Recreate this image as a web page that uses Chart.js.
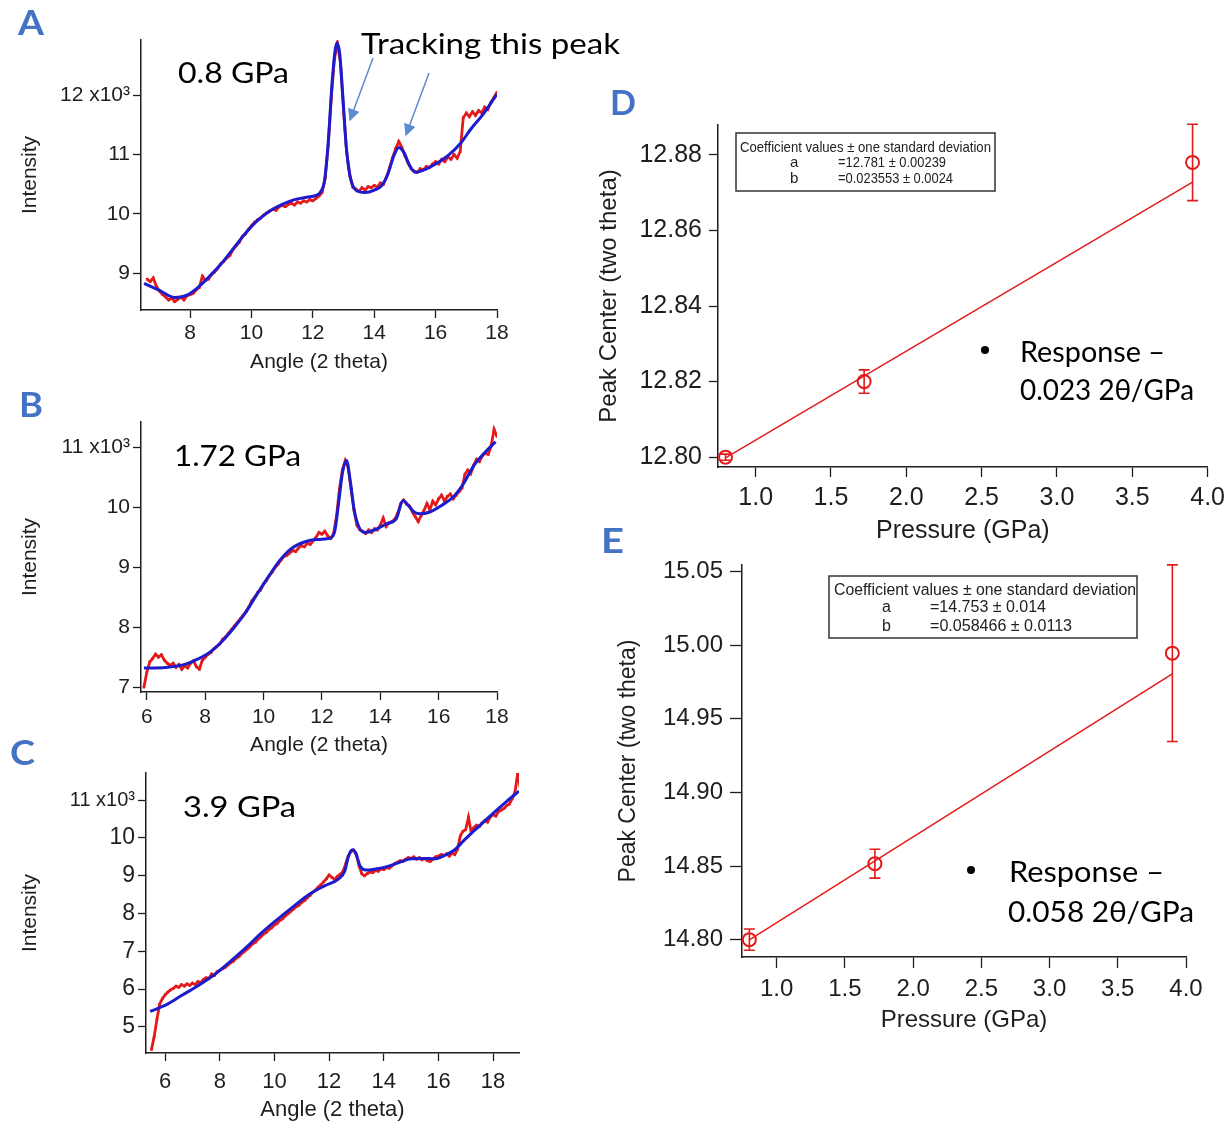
<!DOCTYPE html>
<html>
<head>
<meta charset="utf-8">
<script src="https://cdn.jsdelivr.net/npm/chart.js@4.4.1/dist/chart.umd.min.js"></script>
<style>
html,body{margin:0;padding:0;background:#ffffff;overflow:hidden;}
#fig{position:relative;width:1231px;height:1123px;background:#fff;}
canvas{position:absolute;}
#ov{position:absolute;left:0;top:0;pointer-events:none;}
</style>
</head>
<body>
<div id="fig">
<canvas id="cA" width="540" height="379" style="left:0px;top:0px"></canvas>
<canvas id="cB" width="540" height="382" style="left:0px;top:380px"></canvas>
<canvas id="cC" width="560" height="383" style="left:0px;top:740px"></canvas>
<canvas id="cD" width="651" height="470" style="left:580px;top:80px"></canvas>
<canvas id="cE" width="631" height="519" style="left:600px;top:520px"></canvas>
<svg id="ov" width="1231" height="1123" xmlns="http://www.w3.org/2000/svg">
  <defs>
    <marker id="ah" viewBox="0 0 10 10" refX="9" refY="5" markerWidth="8.5" markerHeight="8" orient="auto">
      <path d="M0,0 L10,5 L0,10 z" fill="#5b8bd0"/>
    </marker>
  </defs>
  <g font-family="Lato, 'Open Sans', sans-serif" font-weight="bold" fill="#4472C4" font-size="35">
    <text x="18" y="35" textLength="26" lengthAdjust="spacingAndGlyphs">A</text>
    <text x="19" y="417" textLength="24" lengthAdjust="spacingAndGlyphs">B</text>
    <text x="10" y="765" textLength="25" lengthAdjust="spacingAndGlyphs">C</text>
    <text x="610" y="115" textLength="26" lengthAdjust="spacingAndGlyphs">D</text>
    <text x="601" y="553" textLength="23" lengthAdjust="spacingAndGlyphs">E</text>
  </g>
  <g font-family="Lato, 'Open Sans', sans-serif" fill="#000" font-size="28">
    <text x="178" y="83" textLength="111" lengthAdjust="spacingAndGlyphs">0.8 GPa</text>
    <text x="361" y="54" font-size="29" textLength="259" lengthAdjust="spacingAndGlyphs">Tracking this peak</text>
    <text x="174" y="466" font-size="29" textLength="127" lengthAdjust="spacingAndGlyphs">1.72 GPa</text>
    <text x="183" y="817" font-size="29" textLength="113" lengthAdjust="spacingAndGlyphs">3.9 GPa</text>
    <text x="1020" y="362" textLength="145" lengthAdjust="spacingAndGlyphs">Response –</text>
    <text x="1020" y="400" textLength="174" lengthAdjust="spacingAndGlyphs">0.023 2θ/GPa</text>
    <text x="1009" y="882" textLength="155" lengthAdjust="spacingAndGlyphs">Response –</text>
    <text x="1008" y="922" textLength="186" lengthAdjust="spacingAndGlyphs">0.058 2θ/GPa</text>
  </g>
  <circle cx="985" cy="350" r="4" fill="#000"/>
  <circle cx="971" cy="870" r="4" fill="#000"/>
  <line x1="373" y1="58" x2="350" y2="120" stroke="#5b8bd0" stroke-width="1.5" marker-end="url(#ah)"/>
  <line x1="429" y1="73" x2="406" y2="135" stroke="#5b8bd0" stroke-width="1.5" marker-end="url(#ah)"/>
  <rect x="736" y="133" width="259" height="58" fill="#fff" stroke="#333" stroke-width="1.5"/>
  <g font-family="'Liberation Sans', Arial, sans-serif" fill="#222" font-size="15">
    <text x="740" y="152" textLength="251" lengthAdjust="spacingAndGlyphs">Coefficient values ± one standard deviation</text>
    <text x="790" y="167">a</text>
    <text x="838" y="167" textLength="108" lengthAdjust="spacingAndGlyphs">=12.781 ± 0.00239</text>
    <text x="790" y="183">b</text>
    <text x="838" y="183" textLength="115" lengthAdjust="spacingAndGlyphs">=0.023553 ± 0.0024</text>
  </g>
  <rect x="829" y="576" width="308" height="62" fill="#fff" stroke="#333" stroke-width="1.5"/>
  <g font-family="'Liberation Sans', Arial, sans-serif" fill="#222" font-size="16">
    <text x="834" y="595" textLength="302" lengthAdjust="spacingAndGlyphs">Coefficient values ± one standard deviation</text>
    <text x="882" y="612">a</text>
    <text x="930" y="612" textLength="116" lengthAdjust="spacingAndGlyphs">=14.753 ± 0.014</text>
    <text x="882" y="631">b</text>
    <text x="930" y="631" textLength="142" lengthAdjust="spacingAndGlyphs">=0.058466 ± 0.0113</text>
  </g>
</svg>
</div>
<script>
// ---------------- DATA ----------------
// Panel A (0.8 GPa): measured pattern [angle 2θ, intensity x10^3]
const measuredA = [
[6.6,8.90],[6.7,8.86],[6.8,8.92],[6.9,8.78],[7.0,8.70],[7.1,8.64],[7.2,8.60],[7.3,8.55],[7.4,8.58],[7.5,8.52],
[7.6,8.56],[7.7,8.60],[7.8,8.55],[7.9,8.62],[8.0,8.64],[8.1,8.66],[8.2,8.72],[8.3,8.76],[8.4,8.95],[8.5,8.88],
[8.6,8.90],[8.7,8.98],[8.8,9.02],[8.9,9.08],[9.0,9.16],[9.1,9.20],[9.2,9.26],[9.3,9.30],[9.4,9.40],[9.5,9.46],
[9.6,9.52],[9.7,9.62],[9.8,9.66],[9.9,9.74],[10.0,9.80],[10.1,9.86],[10.2,9.90],[10.3,9.93],[10.4,9.98],[10.5,10.02],
[10.6,10.05],[10.7,10.08],[10.8,10.06],[10.9,10.12],[11.0,10.14],[11.1,10.12],[11.2,10.16],[11.3,10.18],[11.4,10.15],[11.5,10.20],
[11.6,10.18],[11.7,10.22],[11.8,10.20],[11.9,10.24],[12.0,10.22],[12.1,10.26],[12.2,10.30],[12.3,10.36],[12.4,10.60],[12.5,11.15],
[12.6,11.95],[12.7,12.60],[12.8,12.88],[12.9,12.55],[13.0,11.75],[13.1,11.05],[13.2,10.65],[13.3,10.45],[13.4,10.42],[13.5,10.38],
[13.6,10.44],[13.7,10.40],[13.8,10.46],[13.9,10.44],[14.0,10.48],[14.1,10.45],[14.2,10.52],[14.3,10.50],[14.4,10.62],[14.5,10.78],
[14.6,10.95],[14.7,11.10],[14.8,11.22],[14.9,11.12],[15.0,10.98],[15.1,10.86],[15.2,10.76],[15.3,10.72],[15.4,10.70],[15.5,10.76],
[15.6,10.74],[15.7,10.80],[15.8,10.78],[15.9,10.84],[16.0,10.88],[16.1,10.84],[16.2,10.92],[16.3,10.88],[16.4,10.96],[16.5,10.92],
[16.6,11.00],[16.7,10.94],[16.8,11.05],[16.9,11.62],[17.0,11.70],[17.1,11.64],[17.2,11.72],[17.3,11.66],[17.4,11.74],[17.5,11.70],
[17.6,11.80],[17.7,11.76],[17.8,11.88],[17.9,11.96],[18.0,12.05]
];
const fitA = [
[6.5,8.83],[7.0,8.71],[7.5,8.59],[7.9,8.63],[8.3,8.78],[8.6,8.93],[9.0,9.15],[9.4,9.41],[9.8,9.67],[10.2,9.89],
[10.6,10.05],[11.0,10.16],[11.4,10.24],[11.8,10.28],[12.1,10.31],[12.25,10.37],[12.38,10.56],[12.5,11.2],[12.64,12.3],[12.78,12.88],
[12.87,12.72],[12.98,11.95],[13.09,11.12],[13.22,10.62],[13.4,10.40],[13.7,10.36],[14.0,10.40],[14.25,10.48],[14.45,10.68],[14.64,10.98],
[14.8,11.12],[14.96,11.04],[15.15,10.82],[15.35,10.70],[15.7,10.76],[16.0,10.84],[16.4,10.98],[16.8,11.18],[17.15,11.43],[17.55,11.68],[18.0,12.02]
];

// Panel B (1.72 GPa)
const measuredB = [
[5.9,7.00],[6.0,7.25],[6.1,7.42],[6.2,7.48],[6.3,7.55],[6.4,7.50],[6.5,7.54],[6.6,7.45],[6.7,7.40],[6.8,7.36],
[6.9,7.40],[7.0,7.33],[7.1,7.38],[7.2,7.30],[7.3,7.36],[7.4,7.32],[7.5,7.40],[7.6,7.44],[7.7,7.34],[7.8,7.30],
[7.9,7.45],[8.0,7.50],[8.1,7.55],[8.2,7.58],[8.3,7.64],[8.4,7.68],[8.5,7.72],[8.6,7.80],[8.7,7.84],[8.8,7.90],
[8.9,7.96],[9.0,8.02],[9.1,8.08],[9.2,8.14],[9.3,8.20],[9.4,8.26],[9.5,8.34],[9.6,8.44],[9.7,8.50],[9.8,8.58],
[9.9,8.62],[10.0,8.72],[10.1,8.78],[10.2,8.86],[10.3,8.92],[10.4,9.00],[10.5,9.05],[10.6,9.12],[10.7,9.18],[10.8,9.20],
[10.9,9.24],[11.0,9.28],[11.1,9.26],[11.2,9.32],[11.3,9.36],[11.4,9.34],[11.5,9.40],[11.6,9.38],[11.7,9.44],[11.8,9.50],
[11.9,9.58],[12.0,9.55],[12.1,9.60],[12.2,9.52],[12.3,9.48],[12.4,9.56],[12.5,9.85],[12.6,10.30],[12.7,10.62],[12.8,10.78],
[12.9,10.66],[13.0,10.30],[13.1,9.95],[13.2,9.70],[13.3,9.62],[13.4,9.60],[13.5,9.56],[13.6,9.62],[13.7,9.58],[13.8,9.64],
[13.9,9.62],[14.0,9.70],[14.1,9.82],[14.2,9.68],[14.3,9.74],[14.4,9.76],[14.5,9.80],[14.6,9.90],[14.7,10.06],[14.8,10.12],
[14.9,10.05],[15.0,10.02],[15.1,9.92],[15.2,9.84],[15.3,9.76],[15.4,9.86],[15.5,9.95],[15.6,10.06],[15.7,9.96],[15.8,10.10],
[15.9,10.04],[16.0,10.14],[16.1,10.20],[16.2,10.10],[16.3,10.18],[16.4,10.22],[16.5,10.14],[16.6,10.20],[16.7,10.26],[16.8,10.32],
[16.9,10.55],[17.0,10.62],[17.1,10.56],[17.2,10.70],[17.3,10.80],[17.4,10.76],[17.5,10.86],[17.6,10.90],[17.7,10.88],[17.8,11.02],
[17.9,11.30],[18.0,11.18]
];
const fitB = [
[5.9,7.32],[6.65,7.33],[7.3,7.38],[7.7,7.46],[8.15,7.58],[8.55,7.75],[8.95,7.97],[9.35,8.22],[9.75,8.53],[10.15,8.83],
[10.55,9.11],[10.95,9.31],[11.4,9.42],[11.8,9.46],[12.25,9.48],[12.43,9.58],[12.57,10.06],[12.7,10.56],[12.84,10.78],[12.97,10.44],
[13.11,9.94],[13.27,9.67],[13.47,9.58],[13.8,9.62],[14.2,9.72],[14.55,9.81],[14.78,10.11],[14.96,10.03],[15.16,9.92],[15.36,9.89],
[15.7,9.92],[16.1,10.03],[16.5,10.17],[16.85,10.39],[17.2,10.69],[17.6,10.92],[17.95,11.09]
];

// Panel C (3.9 GPa)
const measuredC = [
[5.5,4.40],[5.6,4.75],[5.7,5.20],[5.8,5.60],[5.9,5.75],[6.0,5.85],[6.1,5.92],[6.2,5.98],[6.3,6.02],[6.4,6.08],
[6.5,6.05],[6.6,6.12],[6.7,6.08],[6.8,6.14],[6.9,6.10],[7.0,6.16],[7.1,6.12],[7.2,6.20],[7.3,6.16],[7.4,6.26],
[7.5,6.30],[7.6,6.28],[7.7,6.40],[7.8,6.36],[7.9,6.46],[8.0,6.50],[8.1,6.54],[8.2,6.58],[8.3,6.64],[8.4,6.70],
[8.5,6.74],[8.6,6.82],[8.7,6.86],[8.8,6.94],[8.9,7.00],[9.0,7.06],[9.1,7.12],[9.2,7.20],[9.3,7.24],[9.4,7.32],
[9.5,7.38],[9.6,7.46],[9.7,7.50],[9.8,7.58],[9.9,7.62],[10.0,7.70],[10.1,7.74],[10.2,7.82],[10.3,7.86],[10.4,7.94],
[10.5,8.00],[10.6,8.06],[10.7,8.12],[10.8,8.18],[10.9,8.22],[11.0,8.30],[11.1,8.34],[11.2,8.42],[11.3,8.48],[11.4,8.56],
[11.5,8.62],[11.6,8.70],[11.7,8.76],[11.8,8.84],[11.9,8.92],[12.0,9.02],[12.1,8.96],[12.2,8.90],[12.3,8.98],[12.4,9.04],
[12.5,9.10],[12.6,9.30],[12.7,9.52],[12.8,9.64],[12.9,9.68],[13.0,9.55],[13.1,9.25],[13.2,9.05],[13.3,9.00],[13.4,9.06],
[13.5,9.10],[13.6,9.08],[13.7,9.14],[13.8,9.12],[13.9,9.18],[14.0,9.16],[14.1,9.22],[14.2,9.20],[14.3,9.26],[14.4,9.32],
[14.5,9.36],[14.6,9.40],[14.7,9.38],[14.8,9.44],[14.9,9.48],[15.0,9.46],[15.1,9.50],[15.2,9.44],[15.3,9.48],[15.4,9.42],
[15.5,9.46],[15.6,9.40],[15.7,9.38],[15.8,9.44],[15.9,9.50],[16.0,9.52],[16.1,9.56],[16.2,9.54],[16.3,9.58],[16.4,9.52],
[16.5,9.60],[16.6,9.56],[16.7,9.70],[16.8,10.05],[16.9,10.18],[17.0,10.22],[17.1,10.55],[17.2,10.16],[17.3,10.28],[17.4,10.34],
[17.5,10.30],[17.6,10.40],[17.7,10.46],[17.8,10.42],[17.9,10.56],[18.0,10.62],[18.1,10.58],[18.2,10.70],[18.3,10.74],[18.4,10.78],
[18.5,10.86],[18.6,10.90],[18.7,11.04],[18.8,11.20],[18.9,11.70],[19.0,11.30]
];
const fitC = [
[5.45,5.41],[6.05,5.59],[6.6,5.83],[7.2,6.09],[7.8,6.38],[8.35,6.71],[8.95,7.09],[9.5,7.47],[10.1,7.84],[10.7,8.19],
[11.25,8.50],[11.85,8.74],[12.35,8.92],[12.57,9.12],[12.71,9.52],[12.86,9.69],[12.97,9.61],[13.14,9.25],[13.36,9.15],[13.7,9.18],
[14.15,9.25],[14.6,9.36],[15.0,9.45],[15.45,9.46],[15.85,9.45],[16.2,9.53],[16.6,9.69],[16.9,9.91],[17.35,10.22],[17.95,10.62],
[18.5,10.97],[18.95,11.24]
];

// Tick values
const angleTicksA = [8, 10, 12, 14, 16, 18];
const angleTicksBC = [6, 8, 10, 12, 14, 16, 18];
const intensityTicksA = [9, 10, 11, 12];
const intensityTicksB = [7, 8, 9, 10, 11];
const intensityTicksC = [5, 6, 7, 8, 9, 10, 11];
const pressureTicks = [1.0, 1.5, 2.0, 2.5, 3.0, 3.5, 4.0];
const centerTicksD = [12.80, 12.82, 12.84, 12.86, 12.88];
const centerTicksE = [14.80, 14.85, 14.90, 14.95, 15.00, 15.05];

// Panels D and E: peak centre vs pressure
const pressureGPa = [0.8, 1.72, 3.9];
const peakCenterD = [12.800, 12.820, 12.878];
const peakErrorD = [0.0008, 0.0031, 0.0101];
const peakCenterE = [14.800, 14.8516, 14.9946];
const peakErrorE = [0.0072, 0.0098, 0.060];
const fitPressure = [0.8, 3.9];
const fitLineD = [12.7998, 12.8728];
const fitLineE = [14.7998, 14.9805];

// ---------------- CHARTS ----------------
const RED = '#e41a1a';
const BLUE = '#1c1ccf';
const INK = '#1e1e1e';
const FONT = "'Liberation Sans', Arial, sans-serif";

const errorBars = {
  id: 'errorBars',
  afterDatasetsDraw(chart) {
    const ds = chart.data.datasets.find(d => d.errors);
    if (!ds) return;
    const {ctx, scales: {x, y}} = chart;
    ctx.save();
    ctx.strokeStyle = RED;
    ctx.lineWidth = 1.6;
    ds.data.forEach((p, i) => {
      const px = x.getPixelForValue(p.x);
      const e = ds.errors[i];
      const y1 = y.getPixelForValue(p.y + e);
      const y2 = y.getPixelForValue(p.y - e);
      ctx.beginPath();
      ctx.moveTo(px, y1); ctx.lineTo(px, y2);
      ctx.moveTo(px - 5.5, y1); ctx.lineTo(px + 5.5, y1);
      ctx.moveTo(px - 5.5, y2); ctx.lineTo(px + 5.5, y2);
      ctx.stroke();
    });
    ctx.restore();
  }
};

function axis(o) {
  return {
    type: 'linear',
    min: o.min, max: o.max,
    afterBuildTicks: s => { s.ticks = o.ticks.map(v => ({value: v})); },
    afterFit: s => { if (o.w !== undefined) s.width = o.w; if (o.h !== undefined) s.height = o.h; },
    grid: {display: true, drawOnChartArea: false, drawTicks: true, tickLength: o.tl, tickColor: INK, tickWidth: 1.3},
    border: {display: true, color: INK, width: 1.5},
    ticks: {color: INK, font: o.tfont, padding: o.pad, maxRotation: 0, autoSkip: false, callback: o.cb},
    title: {display: true, text: o.title, color: INK, font: {family: FONT, size: o.titleSize}, padding: o.titlePad}
  };
}

function xrd(id, measured, fit, xo, yo, pad) {
  return new Chart(document.getElementById(id), {
    type: 'scatter',
    data: {datasets: [
      {data: fit, showLine: true, borderColor: BLUE, borderWidth: 3, pointRadius: 0, cubicInterpolationMode: 'monotone', order: 1},
      {data: measured, showLine: true, borderColor: RED, borderWidth: 2.8, pointRadius: 1.8, pointStyle: 'rect',
       pointBackgroundColor: RED, pointBorderWidth: 0, order: 2}
    ]},
    options: {
      responsive: false, animation: false, events: [],
      plugins: {legend: {display: false}, tooltip: {enabled: false}},
      layout: {padding: pad},
      scales: {x: axis(xo), y: axis(yo)}
    }
  });
}

const sciLabel = top => v => (v === top ? v + ' x10³' : String(v));

xrd('cA', measuredA, fitA,
  {min: 6.4, max: 18, ticks: angleTicksA, h: 69, tl: 8, pad: 3, tfont: {family: FONT, size: 21}, title: 'Angle (2 theta)', titleSize: 21, titlePad: {top: 4, bottom: 4}},
  {min: 8.38, max: 12.93, ticks: intensityTicksA, w: 127, tl: 8, pad: 3, tfont: {family: FONT, size: 21}, cb: sciLabel(12), title: 'Intensity', titleSize: 21, titlePad: {top: 4, bottom: 4}},
  {left: 14, top: 40, right: 43, bottom: 0});

xrd('cB', measuredB, fitB,
  {min: 5.8, max: 18, ticks: angleTicksBC, h: 70, tl: 8, pad: 5, tfont: {family: FONT, size: 21}, title: 'Angle (2 theta)', titleSize: 21, titlePad: {top: 4, bottom: 4}},
  {min: 6.92, max: 11.42, ticks: intensityTicksB, w: 127, tl: 8, pad: 3, tfont: {family: FONT, size: 21}, cb: sciLabel(11), title: 'Intensity', titleSize: 21, titlePad: {top: 4, bottom: 4}},
  {left: 14, top: 42, right: 43, bottom: 0});

xrd('cC', measuredC, fitC,
  {min: 5.3, max: 18.95, ticks: angleTicksBC, h: 70, tl: 8, pad: 8, tfont: {family: FONT, size: 22}, title: 'Angle (2 theta)', titleSize: 22, titlePad: {top: 4, bottom: 0}},
  {min: 4.31, max: 11.72, ticks: intensityTicksC, w: 132, tl: 8, pad: 3,
   tfont: ctx => ({family: FONT, size: (ctx.tick && ctx.tick.value === 11) ? 20 : 23}),
   cb: sciLabel(11), title: 'Intensity', titleSize: 21, titlePad: {top: 4, bottom: 4}},
  {left: 14, top: 33, right: 41, bottom: 0});

function pressureChart(id, centers, errors, fitLine, xo, yo, pad) {
  return new Chart(document.getElementById(id), {
    type: 'scatter',
    data: {datasets: [
      {data: pressureGPa.map((p, i) => ({x: p, y: centers[i]})), errors: errors, pointRadius: 6.5, pointStyle: 'circle',
       pointBorderColor: RED, pointBackgroundColor: 'rgba(0,0,0,0)', pointBorderWidth: 2, showLine: false, clip: false, order: 1},
      {data: fitPressure.map((p, i) => ({x: p, y: fitLine[i]})), showLine: true, borderColor: RED, borderWidth: 1.5, pointRadius: 0, order: 2}
    ]},
    options: {
      responsive: false, animation: false, events: [],
      plugins: {legend: {display: false}, tooltip: {enabled: false}},
      layout: {padding: pad},
      scales: {x: axis(xo), y: axis(yo)}
    },
    plugins: [errorBars]
  });
}

pressureChart('cD', peakCenterD, peakErrorD, fitLineD,
  {min: 0.75, max: 4.0, ticks: pressureTicks, h: 83, tl: 10, pad: 6, tfont: {family: FONT, size: 25}, cb: v => v.toFixed(1), title: 'Pressure (GPa)', titleSize: 25, titlePad: {top: 4, bottom: 4}},
  {min: 12.7974, max: 12.8879, ticks: centerTicksD, w: 127, tl: 9, pad: 7, tfont: {family: FONT, size: 25}, cb: v => v.toFixed(2), title: 'Peak Center (two theta)', titleSize: 24, titlePad: {top: 4, bottom: 4}},
  {left: 11, top: 45, right: 22, bottom: 0});

pressureChart('cE', peakCenterE, peakErrorE, fitLineE,
  {min: 0.746, max: 4.0, ticks: pressureTicks, h: 82, tl: 11, pad: 7, tfont: {family: FONT, size: 24}, cb: v => v.toFixed(1), title: 'Pressure (GPa)', titleSize: 24, titlePad: {top: 4, bottom: 4}},
  {min: 14.7882, max: 15.0545, ticks: centerTicksE, w: 131, tl: 12, pad: 7, tfont: {family: FONT, size: 24}, cb: v => v.toFixed(2), title: 'Peak Center (two theta)', titleSize: 23, titlePad: {top: 4, bottom: 4}},
  {left: 11, top: 45, right: 45, bottom: 0});
</script>
</body>
</html>
